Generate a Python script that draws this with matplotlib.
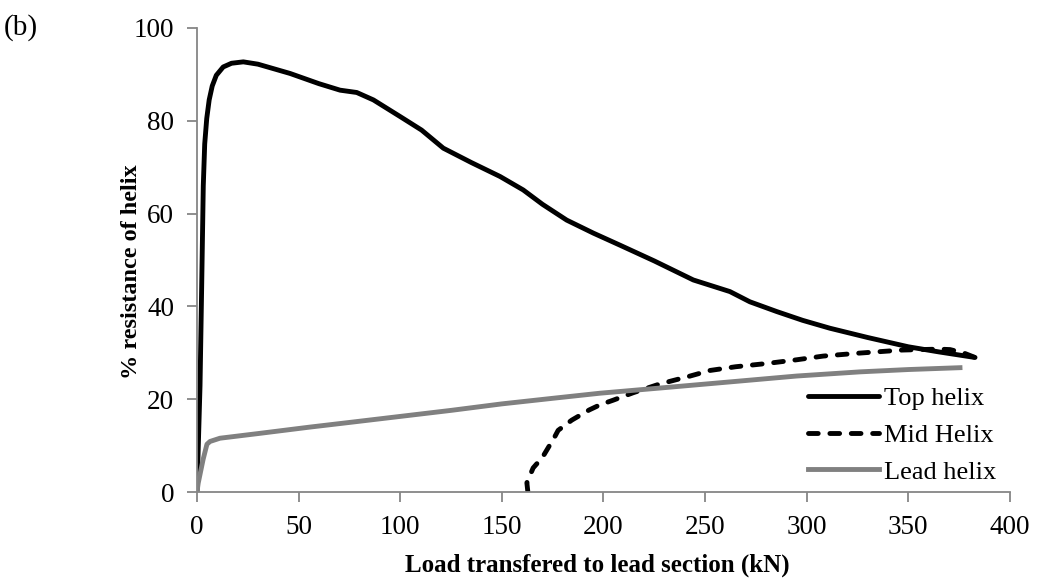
import matplotlib.pyplot as plt

# Top helix share of resistance
top_load = [0, 1.5, 2.3, 3.1, 3.8, 4.8, 6, 7.5, 9.5, 12.9, 17, 22.8, 30, 45.8, 60,
            70.4, 78.6, 86.8, 100, 110.5, 121.2, 135, 149.1, 160.5, 170, 181.9, 195,
            208.1, 225, 244.2, 262.2, 272, 285.2, 298, 311.4, 330, 350, 365, 382.8]
top_pct = [0, 23, 44, 66, 75, 80.5, 84.5, 87.5, 89.8, 91.6, 92.4, 92.7, 92.2, 90.2, 88,
           86.6, 86.1, 84.5, 80.9, 78, 74.1, 71, 68, 65.1, 62, 58.6, 55.8,
           53.2, 49.8, 45.7, 43.2, 41, 38.9, 37, 35.3, 33.3, 31.3, 30.2, 29]

# Mid helix share of resistance
mid_load = [162.8, 162.3, 165.4, 170, 176, 177.7, 184.4, 193, 198.3, 204.8, 214.6,
            227.8, 241, 252.4, 265, 280.3, 295, 308.1, 324.6, 347, 365, 370.5, 377, 382.8]
mid_pct = [0, 2, 5.2, 7.5, 11.9, 13.3, 15.5, 17.7, 18.8, 19.8, 21.4,
           23.3, 24.8, 26.2, 27, 27.7, 28.5, 29.3, 29.9, 30.6, 30.8, 30.7, 30, 29]

# Lead helix share of resistance
lead_load = [0, 0.6, 3, 4.9, 6.4, 11.3, 30, 55.6, 75, 100, 125, 150, 175, 198.3,
             230, 263.9, 295, 326.2, 350, 375.4]
lead_pct = [0, 1.9, 7, 10.3, 10.9, 11.6, 12.6, 14, 15, 16.3, 17.6, 19, 20.2, 21.3,
            22.5, 23.8, 25, 25.9, 26.4, 26.8]

x_ticks = [0, 50, 100, 150, 200, 250, 300, 350, 400]
y_ticks = [0, 20, 40, 60, 80, 100]

plt.rcParams['font.family'] = ['Liberation Serif', 'DejaVu Serif']

fig = plt.figure(figsize=(10.45, 5.83), dpi=100)
ax = fig.add_axes([0.1885, 0.156, 0.778, 0.796])

lw = 3.5
ax.plot(top_load, top_pct, color='black', lw=lw, label='Top helix',
        solid_joinstyle='round', solid_capstyle='round')
ax.plot(mid_load, mid_pct, color='black', lw=lw, ls=(0, (2.0, 2.4)), label='Mid Helix',
        dash_capstyle='round', dash_joinstyle='round')
ax.plot(lead_load, lead_pct, color='#808080', lw=lw, label='Lead helix',
        solid_joinstyle='round')

ax.set_xlim(0, 400)
ax.set_ylim(0, 100)
ax.set_xticks(x_ticks)
ax.set_yticks(y_ticks)
ax.tick_params(labelsize=19.5, color='#868686', length=7, width=1.3)
ax.tick_params(axis='y', pad=9.5)
ax.tick_params(axis='x', pad=9.5)
for side in ['top', 'right']:
    ax.spines[side].set_visible(False)
for side in ['left', 'bottom']:
    ax.spines[side].set_color('#868686')
    ax.spines[side].set_linewidth(1.3)

ax.set_xlabel('Load transfered to lead section (kN)', fontsize=18, fontweight='bold', labelpad=10)
ax.xaxis.label.set_x(0.492)
ax.set_ylabel('% resistance of helix', fontsize=17.5, fontweight='bold')
ax.yaxis.set_label_coords(-0.0677, 0.475)

ax.legend(loc='upper left', bbox_to_anchor=(0.7515, 0.227), frameon=False, fontsize=19,
          handlelength=2.7, handletextpad=0.2, labelspacing=0.5,
          borderpad=0, borderaxespad=0)

fig.text(0.004, 0.952, '(b)', fontsize=21, va='center')

fig.savefig('out.png', dpi=100)
